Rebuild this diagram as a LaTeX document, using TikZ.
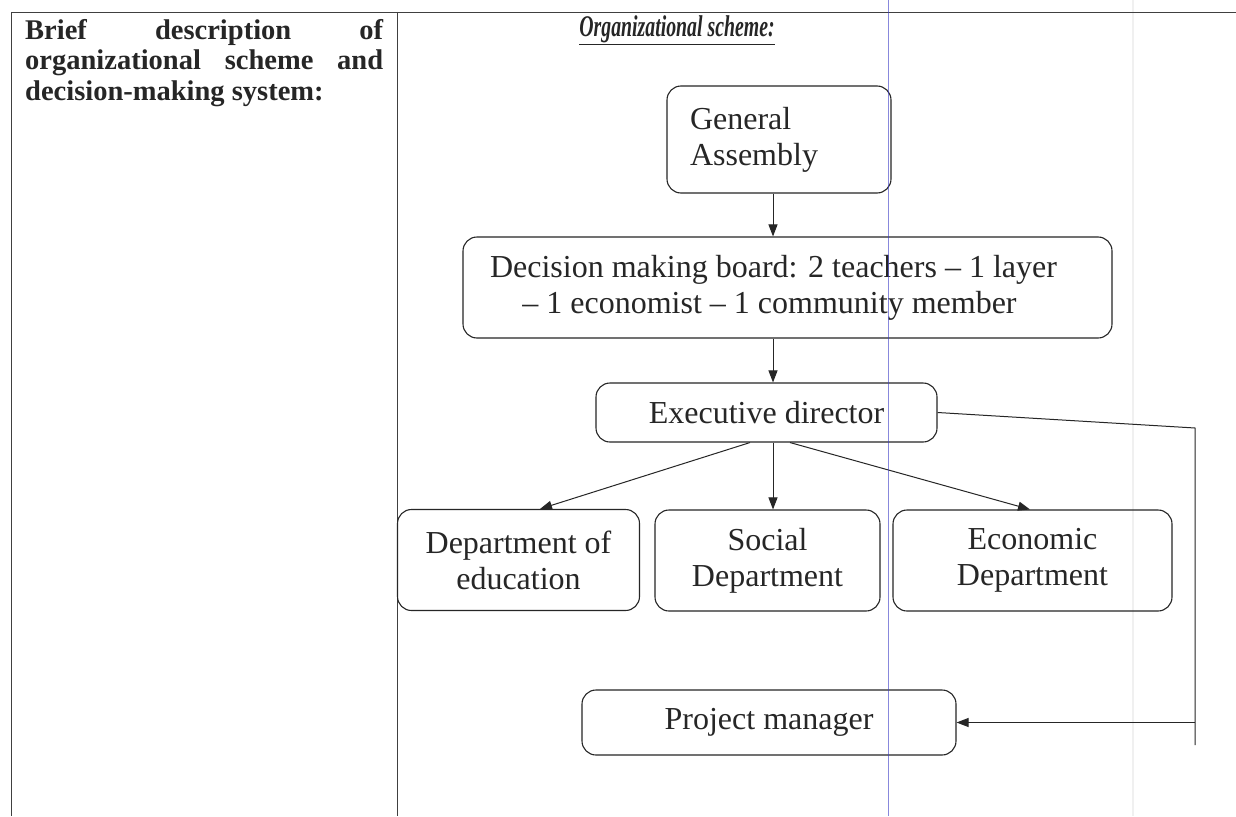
\documentclass[tikz,border=0pt]{standalone}
\usepackage{fontspec}
\setmainfont{Liberation Serif}
\usetikzlibrary{arrows.meta}
\begin{document}
\begin{tikzpicture}[x=1pt,y=-1pt,
  orgbox/.style={draw=black!85, line width=1.1pt, rounded corners=14pt, align=center,
    font=\fontsize{32}{36}\selectfont, inner sep=0pt, text=black!85},
  desctext/.style={anchor=base west, inner sep=0pt, text=black!85,
    font=\bfseries\fontsize{28.5}{30}\selectfont},
  rule/.style={draw=black!75, line width=0.9pt},
  conn/.style={draw=black!85, line width=1pt, -{Triangle[length=12pt,width=9pt]}},
  plain/.style={draw=black!85, line width=1pt}]
\useasboundingbox (0,0) rectangle (1236,816);
\fill[white] (0,0) rectangle (1236,816);
% scan artefacts
\draw[gray!12, line width=2pt] (1133,0) -- (1133,816);
% table rules
\draw[rule] (11,12) -- (1236,12);
\draw[rule] (11,12) -- (11,816);
\draw[rule] (397,12) -- (397,816);
% left column text
\node[desctext] (desc1) at (25,40) {\makebox[358pt][s]{Brief description of}};
\node[desctext] (desc2) at (25,70) {\makebox[358pt][s]{organizational scheme and}};
\node[desctext] (desc3) at (25,100) {decision-making system:};
% title
\node[font=\bfseries\itshape\fontsize{30}{34}\selectfont, text=black!85] (title) at (677,30)
  {\scalebox{0.66}[1]{\underline{Organizational scheme:}}};
% boxes
\node[orgbox, minimum width=224pt, minimum height=107pt, text width=178pt, inner xsep=23pt, align=left] (ga) at (779,139.5) {General\\Assembly};
\node[orgbox, minimum width=649pt, minimum height=101pt] (dmb) at (787.5,287.5)
  {Decision making board: 2 teachers -- 1 layer\hspace*{28pt}\\-- 1 economist -- 1 community member\hspace*{36pt}};
\node[orgbox, minimum width=341pt, minimum height=59pt] (ed) at (766.5,412.5) {Executive director};
\node[orgbox, minimum width=242pt, minimum height=101pt] (de) at (518.5,560) {Department of\\education};
\node[orgbox, minimum width=225pt, minimum height=101pt] (sd) at (767.5,560.5) {Social\\Department};
\node[orgbox, minimum width=279pt, minimum height=101pt] (ecd) at (1032.5,560.5) {Economic\\Department};
\node[orgbox, minimum width=374pt, minimum height=65pt] (pm) at (769,722.5) {Project manager};
% connectors
\coordinate (c1) at (1195,428);
\coordinate (c2) at (1195,745);
\coordinate (c3) at (1195,722.5);
\draw[conn] (ga.south -| 773,0) -- (dmb.north -| 773,0);
\draw[conn] (dmb.south -| 773,0) -- (ed.north -| 773,0);
\draw[conn] (ed.south -| 750,0) -- (de.north -| 540,0);
\draw[conn] (ed.south -| 773,0) -- (sd.north -| 773,0);
\draw[conn] (ed.south -| 790,0) -- (ecd.north -| 1030,0);
\draw[plain] (ed.east) -- (c1) -- (c2);
\draw[conn] (c3) -- (pm.east);
% blue scan line
\draw[blue!55!gray, opacity=0.6, line width=1pt] (888,0) -- (888,816);
\end{tikzpicture}
\end{document}
